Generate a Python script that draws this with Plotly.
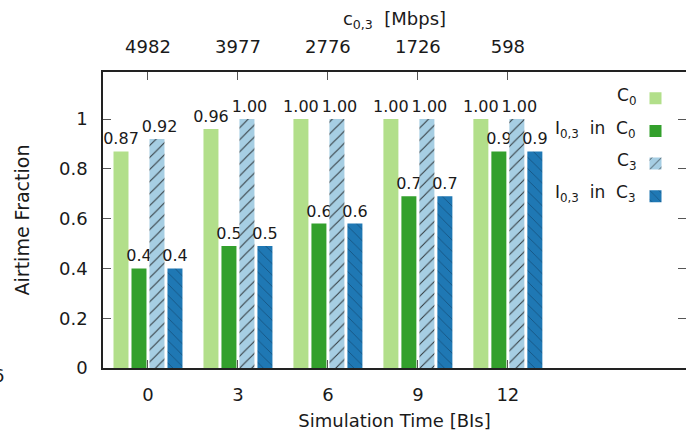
import plotly.graph_objects as go

# ---- data ----
sim_time = ["0", "3", "6", "9", "12"]
rate_mbps = ["4982", "3977", "2776", "1726", "598"]
c0_frac = [0.87, 0.96, 1.00, 1.00, 1.00]
l03_in_c0 = [0.40, 0.49, 0.58, 0.69, 0.87]
c3_frac = [0.92, 1.00, 1.00, 1.00, 1.00]
l03_in_c3 = [0.40, 0.49, 0.58, 0.69, 0.87]
legend_labels = ["C<sub>0</sub>", "I<sub>0,3</sub>  in  C<sub>0</sub>",
                 "C<sub>3</sub>", "I<sub>0,3</sub>  in  C<sub>3</sub>"]

FONT = "DejaVu Sans"
TXT = "#1a1a1a"
BORDER = "#222222"
TICK = "#555555"

fig = go.Figure()

series = [
    (c0_frac, "#b2df8a", None, "%{y:.2f}"),
    (l03_in_c0, "#33a02c", None, "%{y:.1f}"),
    (c3_frac, "#a6cee3", dict(shape="/", fgcolor="#111111", fgopacity=0.8, size=8.5, solidity=0.12), " %{y:.2f}"),
    (l03_in_c3, "#1f78b4", dict(shape="\\", fgcolor="#061426", fgopacity=0.4, size=8, solidity=0.1), "%{y:.1f}"),
]
for vals, col, pat, tmpl in series:
    marker = dict(color=col, line=dict(width=0))
    if pat:
        marker["pattern"] = pat
    fig.add_trace(go.Bar(
        x=sim_time, y=vals, name="", marker=marker,
        texttemplate=tmpl, textposition="outside", constraintext="none",
        cliponaxis=False,
        textfont=dict(family=FONT, size=16, color=TXT),
        showlegend=True,
    ))

# invisible trace so the top and right axes get drawn
fig.add_trace(go.Scatter(x=[0, 4], y=[0, 1], xaxis="x2", yaxis="y2",
                         mode="markers", marker=dict(opacity=0),
                         showlegend=False, hoverinfo="skip"))

# legend texts (right-aligned, left of the swatches)
leg_y = [96.5, 129.5, 161.7, 193.5]
for lbl, yy in zip(legend_labels, leg_y):
    fig.add_annotation(
        text=lbl, xref="paper", yref="paper",
        x=(638 - 103) / 583, y=(368 - yy) / 296,
        xanchor="right", yanchor="middle", showarrow=False,
        font=dict(family=FONT, size=17, color=TXT),
    )

# clipped fragment of a neighbouring label at bottom-left
fig.add_annotation(
    text="6", xref="paper", yref="paper",
    x=(6 - 103) / 583, y=(368 - 375) / 296,
    xanchor="right", yanchor="middle", showarrow=False,
    font=dict(family=FONT, size=18, color=TXT),
)

fig.update_layout(
    width=686, height=432,
    margin=dict(l=103, r=0, t=72, b=64, autoexpand=False),
    paper_bgcolor="white", plot_bgcolor="white",
    font=dict(family=FONT, size=18, color=TXT),
    barmode="group", bargap=0.2, bargroupgap=0.1667,
    legend=dict(
        x=(635.5 - 103) / 583, y=(368 - 77) / 296, xanchor="left", yanchor="top",
        bgcolor="rgba(0,0,0,0)", font=dict(size=22.8, family=FONT),
        traceorder="normal",
    ),
    xaxis=dict(
        type="category", range=[-0.5, 5.98],
        showline=True, linecolor=BORDER, linewidth=1.5,
        ticks="inside", ticklen=8, tickcolor=TICK, tickwidth=1,
        tickfont=dict(size=18, family=FONT, color=TXT),
        ticklabelstandoff=10, showgrid=False, zeroline=False,
        title=dict(text="Simulation Time [BIs]", font=dict(size=18, family=FONT, color=TXT), standoff=10),
    ),
    xaxis2=dict(
        overlaying="x", side="top", range=[-0.5, 5.98],
        tickmode="array", tickvals=list(range(len(rate_mbps))), ticktext=rate_mbps,
        showline=True, linecolor=BORDER, linewidth=1.5,
        ticks="inside", ticklen=8, tickcolor=TICK, tickwidth=1,
        tickfont=dict(size=18, family=FONT, color=TXT),
        ticklabelstandoff=10, showgrid=False, zeroline=False,
        title=dict(text="c<sub>0,3</sub>  [Mbps]", font=dict(size=18, family=FONT, color=TXT), standoff=6),
    ),
    yaxis=dict(
        range=[0, 1.189], dtick=0.2, tick0=0,
        showline=True, linecolor=BORDER, linewidth=1.5,
        ticks="inside", ticklen=8, tickcolor=TICK, tickwidth=1,
        tickfont=dict(size=18, family=FONT, color=TXT),
        ticklabelstandoff=10, showgrid=False, zeroline=False,
        title=dict(text="Airtime Fraction", font=dict(size=19, family=FONT, color=TXT), standoff=24),
    ),
    yaxis2=dict(
        overlaying="y", side="right", range=[0, 1.189], dtick=0.2, tick0=0,
        showline=False, ticks="inside", ticklen=8, tickcolor=TICK, tickwidth=1,
        showticklabels=False, showgrid=False, zeroline=False,
    ),
)

fig.write_html("out.html", config={"displayModeBar": False},
               post_script="document.body.style.margin='0px';document.body.style.overflow='hidden';")
